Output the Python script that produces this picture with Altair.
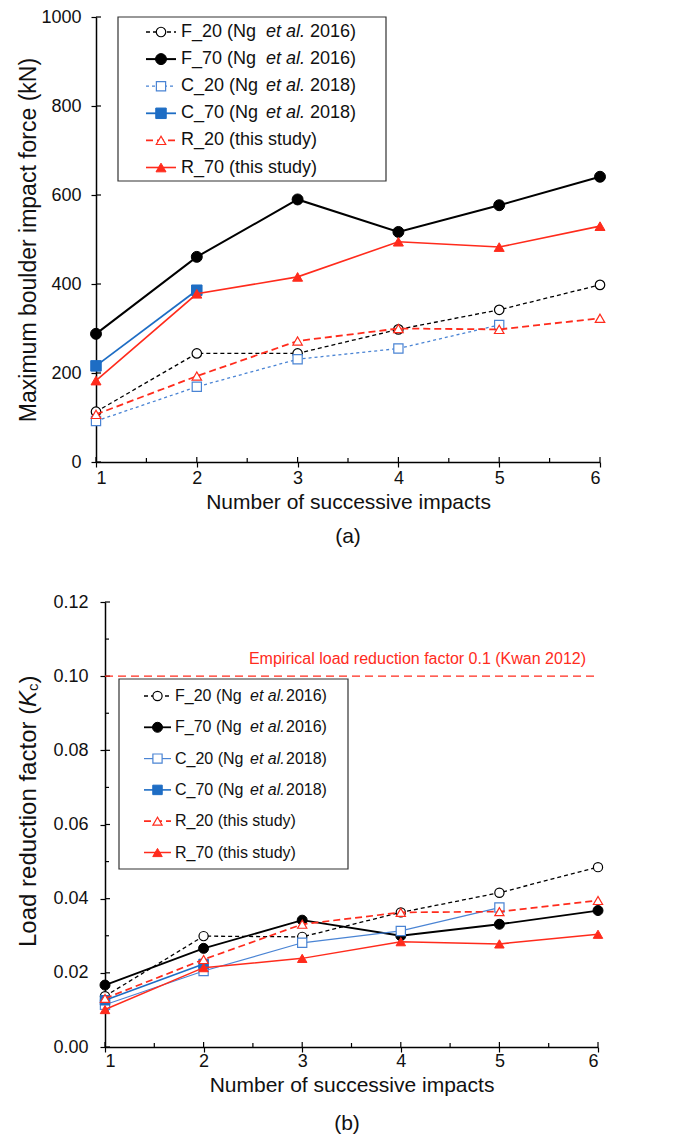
import altair as alt
import pandas as pd

# ---------------- data ----------------
impacts = [1, 2, 3, 4, 5, 6]

force_F20 = [113, 244, 244, 298, 342, 398]
force_F70 = [288, 461, 590, 517, 577, 641]
force_C20 = [92, 169, 231, 255, 308]
force_C70 = [216, 386]
force_R20 = [107, 193, 272, 300, 298, 323]
force_R70 = [183, 378, 416, 495, 483, 530]

kc_F20 = [0.0137, 0.0299, 0.0297, 0.0363, 0.0416, 0.0485]
kc_F70 = [0.0167, 0.0266, 0.0342, 0.0300, 0.0331, 0.0368]
kc_C20 = [0.0114, 0.0205, 0.0281, 0.0313, 0.0376]
kc_C70 = [0.0126, 0.0224]
kc_R20 = [0.0131, 0.0236, 0.0331, 0.0363, 0.0365, 0.0395]
kc_R70 = [0.0101, 0.0214, 0.0239, 0.0284, 0.0278, 0.0304]

kc_empirical = [0.10]
empirical_label = "Empirical load reduction factor 0.1 (Kwan 2012)"

x_ticks = [1, 2, 3, 4, 5, 6]
x_minor = [1.5, 2.5, 3.5, 4.5, 5.5]
force_ticks = [0, 200, 400, 600, 800, 1000]
kc_ticks = [0.0, 0.02, 0.04, 0.06, 0.08, 0.10, 0.12]
kc_minor = [0.01, 0.03, 0.05, 0.07, 0.09, 0.11]

legend_a = [
    ("F_20", "F_20 (Ng", "et al.", "2016)"),
    ("F_70", "F_70 (Ng", "et al.", "2016)"),
    ("C_20", "C_20 (Ng", "et al.", "2018)"),
    ("C_70", "C_70 (Ng", "et al.", "2018)"),
    ("R_20", "R_20 (this study)", "", ""),
    ("R_70", "R_70 (this study)", "", ""),
]
legend_b = [
    ("F_20", "F_20 (Ng", "et al.", "2016)"),
    ("F_70", "F_70 (Ng", "et al.", "2016)"),
    ("C_20", "C_20 (Ng", "et al.", "2018)"),
    ("C_70", "C_70 (Ng", "et al.", "2018)"),
    ("R_20", "R_20 (this study)", "", ""),
    ("R_70", "R_70 (this study)", "", ""),
]

# ---------------- styles ----------------
FONT = "Liberation Sans"
BLACK = "#000000"
BLUE = "#1E6DC4"
LBLUE = "#4A84D4"
RED = "#FF2B1C"
TXT = "#111111"

styles_a = {
    "F_20": dict(color=BLACK, width=1.3, dash=[4, 3], shape="circle", filled=False, size=90),
    "F_70": dict(color=BLACK, width=2.0, dash=None, shape="circle", filled=True, size=120),
    "C_20": dict(color=LBLUE, width=1.3, dash=[3, 3], shape="square", filled=False, size=85),
    "C_70": dict(color=BLUE, width=1.8, dash=None, shape="square", filled=True, size=110),
    "R_20": dict(color=RED, width=1.8, dash=[7, 4], shape="triangle-up", filled=False, size=90),
    "R_70": dict(color=RED, width=1.6, dash=None, shape="triangle-up", filled=True, size=100),
}
styles_b = {
    "F_20": dict(color=BLACK, width=1.3, dash=[4, 3], shape="circle", filled=False, size=85),
    "F_70": dict(color=BLACK, width=1.8, dash=None, shape="circle", filled=True, size=100),
    "C_20": dict(color=LBLUE, width=1.2, dash=None, shape="square", filled=False, size=85),
    "C_70": dict(color=BLUE, width=1.6, dash=None, shape="square", filled=True, size=90),
    "R_20": dict(color=RED, width=1.7, dash=[7, 4], shape="triangle-up", filled=False, size=85),
    "R_70": dict(color=RED, width=1.5, dash=None, shape="triangle-up", filled=True, size=90),
}

one = pd.DataFrame({"k": [0]})


def line_kwargs(st):
    kw = dict(color=st["color"], strokeWidth=st["width"])
    if st["dash"]:
        kw["strokeDash"] = st["dash"]
    return kw


def point_kwargs(st):
    if st["filled"]:
        return dict(shape=st["shape"], filled=True, fill=st["color"], stroke=st["color"],
                    strokeWidth=1, size=st["size"], opacity=1)
    return dict(shape=st["shape"], filled=True, fill="white", stroke=st["color"],
                strokeWidth=1.2, size=st["size"], opacity=1)


def series_layers(series, styles, X, Y):
    out = []
    for key, vals in series:
        df = pd.DataFrame({"impact": impacts[:len(vals)], "value": vals})
        st = styles[key]
        base = alt.Chart(df)
        out.append(base.mark_line(**line_kwargs(st)).encode(x=X, y=Y))
        out.append(base.mark_point(**point_kwargs(st)).encode(x=X, y=Y))
    return out


def inner_ticks(X, Y, H, x0, ymajor, yminor, ylen_major, ylen_minor):
    out = []
    out.append(alt.Chart(pd.DataFrame({"impact": x_ticks})).mark_rule(color=BLACK, strokeWidth=1.2)
               .encode(x=X, y=alt.value(H), y2=alt.value(H - 5)))
    out.append(alt.Chart(pd.DataFrame({"impact": x_minor})).mark_rule(color=BLACK, strokeWidth=1.2)
               .encode(x=X, y=alt.value(H), y2=alt.value(H - 4)))
    out.append(alt.Chart(pd.DataFrame({"value": ymajor})).mark_rule(color=BLACK, strokeWidth=1.2)
               .encode(y=Y, x=alt.value(x0), x2=alt.value(x0 + ylen_major)))
    if yminor:
        out.append(alt.Chart(pd.DataFrame({"value": yminor})).mark_rule(color=BLACK, strokeWidth=1.2)
                   .encode(y=Y, x=alt.value(x0), x2=alt.value(x0 + ylen_minor)))
    return out


def legend_layers(rows, styles, box, y0, step, sx0, sx1, mx, tx, ix, yx, fs):
    out = []
    bx0, bx1, by0, by1 = box
    out.append(alt.Chart(one).mark_rect(fill="white", stroke="#333333", strokeWidth=1.2)
               .encode(x=alt.value(bx0), x2=alt.value(bx1), y=alt.value(by0), y2=alt.value(by1)))
    for i, (key, pre, ital, suf) in enumerate(rows):
        st = styles[key]
        yy = y0 + i * step
        out.append(alt.Chart(one).mark_rule(**line_kwargs(st))
                   .encode(x=alt.value(sx0), x2=alt.value(sx1), y=alt.value(yy)))
        out.append(alt.Chart(one).mark_point(**point_kwargs(st))
                   .encode(x=alt.value(mx), y=alt.value(yy)))
        out.append(alt.Chart(one).mark_text(text=pre, align="left", baseline="middle", font=FONT,
                                            fontSize=fs, color=TXT)
                   .encode(x=alt.value(tx), y=alt.value(yy)))
        if ital:
            out.append(alt.Chart(one).mark_text(text=ital, align="left", baseline="middle", font=FONT,
                                                fontSize=fs, fontStyle="italic", color=TXT)
                       .encode(x=alt.value(ix), y=alt.value(yy)))
            out.append(alt.Chart(one).mark_text(text=suf, align="left", baseline="middle", font=FONT,
                                                fontSize=fs, color=TXT)
                       .encode(x=alt.value(yx), y=alt.value(yy)))
    return out


def x_enc(rng, label_pad, title_pad):
    return alt.X("impact:Q", scale=alt.Scale(domain=[1, 6], range=rng, nice=False, zero=False),
                 axis=alt.Axis(values=x_ticks, format="d", tickSize=5, labelPadding=label_pad,
                               title="Number of successive impacts", titleFontSize=21,
                               titlePadding=title_pad, labelFontSize=18))


# ---------------- panel (a) ----------------
WA, HA = 504, 445
XA = x_enc([0, WA], 2, 4)
YA = alt.Y("value:Q", scale=alt.Scale(domain=[0, 1000], nice=False),
           axis=alt.Axis(values=force_ticks, format="d", tickSize=5, labelPadding=10,
                         labelFontSize=18, title="Maximum boulder impact force (kN)",
                         titleFontSize=23, titlePadding=0))

series_a = [("F_20", force_F20), ("F_70", force_F70), ("C_20", force_C20),
            ("C_70", force_C70), ("R_20", force_R20), ("R_70", force_R70)]

layers_a = []
layers_a += inner_ticks(XA, YA, HA, 0, force_ticks, None, 5, 0)
layers_a += legend_layers(legend_a, styles_a, (22, 290, 0, 164), 15, 27.1,
                          50, 80, 65, 85, 170, 214, 18)
layers_a += series_layers(series_a, styles_a, XA, YA)

panel_a = alt.layer(*layers_a).properties(
    width=WA, height=HA,
    title=alt.TitleParams("(a)", orient="bottom", fontSize=21, fontWeight="normal",
                          offset=14, anchor="middle", font=FONT, color=TXT))

# ---------------- panel (b) ----------------
SHIFT = 9           # panel (b) plot area sits 9 px right of panel (a)'s
WB, HB = 493 + SHIFT, 445
XB = x_enc([SHIFT, WB], 0, 4)
YB = alt.Y("value:Q", scale=alt.Scale(domain=[0, 0.12], nice=False),
           axis=alt.Axis(values=kc_ticks, format=".2f", tickSize=5, labelPadding=12,
                         labelFontSize=18, title=None, offset=-SHIFT))

series_b = [("F_20", kc_F20), ("F_70", kc_F70), ("C_20", kc_C20),
            ("C_70", kc_C70), ("R_20", kc_R20), ("R_70", kc_R70)]

layers_b = []
layers_b += inner_ticks(XB, YB, HB, SHIFT, kc_ticks, kc_minor, 5, 4)

emp = pd.DataFrame({"value": kc_empirical, "label": [empirical_label]})
layers_b.append(alt.Chart(emp).mark_rule(color=RED, strokeDash=[8, 5], strokeWidth=1.4)
                .encode(y=YB, x=alt.value(SHIFT), x2=alt.value(WB)))
layers_b.append(alt.Chart(emp).mark_text(align="right", baseline="middle", dy=-17, font=FONT,
                                         fontSize=16, color=RED)
                .encode(x=alt.value(WB - 12), y=YB, text="label:N"))

layers_b += legend_layers(legend_b, styles_b, (23, 252, 77, 267), 94, 31.3,
                          48, 75, 61.5, 79, 154, 190, 16)
layers_b += series_layers(series_b, styles_b, XB, YB)

# custom y title with italic K and subscript c
ty = 345
tx = -67
ytitle_parts = [
    ("Load reduction factor (", 0, 0, 24, "normal"),
    ("K", 240, 0, 24, "italic"),
    ("c", 256, 4, 15, "normal"),
    (")", 263.5, 0, 24, "normal"),
]
for txt, off, dx, fs, style in ytitle_parts:
    layers_b.append(alt.Chart(one).mark_text(text=txt, angle=270, align="left", baseline="middle",
                                             font=FONT, fontSize=fs, fontStyle=style, color=TXT)
                    .encode(x=alt.value(tx + dx), y=alt.value(ty - off)))

panel_b = alt.layer(*layers_b).properties(
    width=WB, height=HB,
    title=alt.TitleParams("(b)", orient="bottom", fontSize=21, fontWeight="normal",
                          offset=18, anchor="middle", font=FONT, color=TXT))

chart = alt.vconcat(panel_a, panel_b, spacing=46).properties(
    padding={"left": 8, "top": 0, "right": 0, "bottom": 0}
).configure(font=FONT).configure_view(stroke=None).configure_axis(
    grid=False, domainColor=BLACK, domainWidth=1.5, tickColor=BLACK, tickWidth=1.2,
    labelColor=TXT, titleColor=TXT, labelFont=FONT, titleFont=FONT, titleFontWeight="normal"
)

chart.save("out.html", embed_options={"renderer": "svg", "actions": False})
